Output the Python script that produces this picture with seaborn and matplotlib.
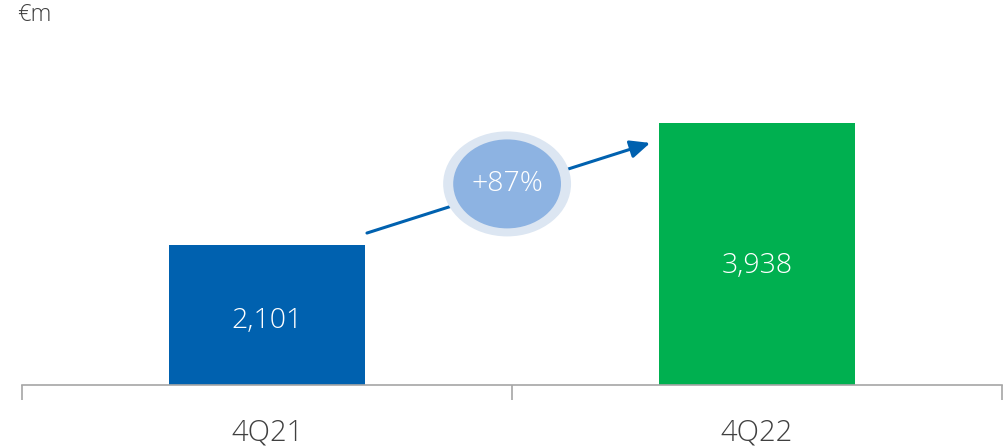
import matplotlib
matplotlib.use("Agg")
import matplotlib.pyplot as plt
import seaborn as sns
import pandas as pd
from matplotlib.patches import Ellipse

categories = ["4Q21", "4Q22"]
values = [2101, 3938]
value_labels = ["2,101", "3,938"]
change_label = "+87%"
unit_label = "€m"
colors = ["#0061AF", "#00B050"]

sns.set_theme(style="white")
plt.rcParams['font.family'] = ['Open Sans', 'DejaVu Sans']
W = 300

fig = plt.figure(figsize=(10.04, 4.46), dpi=100)
ax = fig.add_axes([22/1004, 61/446, 980/1004, 330/446])

df = pd.DataFrame({"cat": categories, "val": values})
sns.barplot(data=df, x="cat", y="val", hue="cat", palette=colors, width=0.402,
            saturation=1, legend=False, linewidth=0, ax=ax)

ax.set_xlim(-0.5, 1.5)
ax.set_ylim(0, 330/0.0666)
for s in ["top", "right", "left"]:
    ax.spines[s].set_visible(False)
ax.spines["bottom"].set_color("#A6A6A6")
ax.spines["bottom"].set_linewidth(1.2)
ax.set_yticks([])
ax.set_xlabel("")
ax.set_ylabel("")
ax.set_xticks([0, 1])
ax.set_xticklabels(categories, fontsize=21, color="#404040", fontweight=W)
ax.tick_params(axis="x", which="major", length=0, pad=24)
ax.set_xticks([-0.5, 0.5, 1.5], minor=True)
ax.tick_params(axis="x", which="minor", length=11, width=1.2, color="#A6A6A6", bottom=True)

for i, (v, lab) in enumerate(zip(values, value_labels)):
    ax.text(i, v * 0.455, lab, ha="center", va="center", color="white", fontsize=20.5,
            fontweight=W)

# growth arrow and bubble
ax.annotate("", xy=(0.782, values[1] * 0.923), xytext=(0.204, values[0] * 1.086),
            arrowprops=dict(arrowstyle="-|>,head_length=1.0,head_width=0.45",
                            color="#0061AF", lw=2.2, shrinkA=0, shrinkB=0))
cx, cy = 0.49, (values[0] + values[1]) / 2
ax.add_patch(Ellipse((cx, cy), 0.261, 1577, facecolor="#DCE6F2", edgecolor="none", zorder=3))
ax.add_patch(Ellipse((cx, cy), 0.220, 1336, facecolor="#8DB3E2", edgecolor="none", zorder=4))
ax.text(cx, cy, change_label, ha="center", va="center", color="white", fontsize=20.5,
        fontweight=W, zorder=5)

fig.text(17/1004, 1 - 15/446, unit_label, ha="left", va="center", fontsize=17,
         color="#404040", fontweight=W)

fig.savefig("out.png", dpi=100)
